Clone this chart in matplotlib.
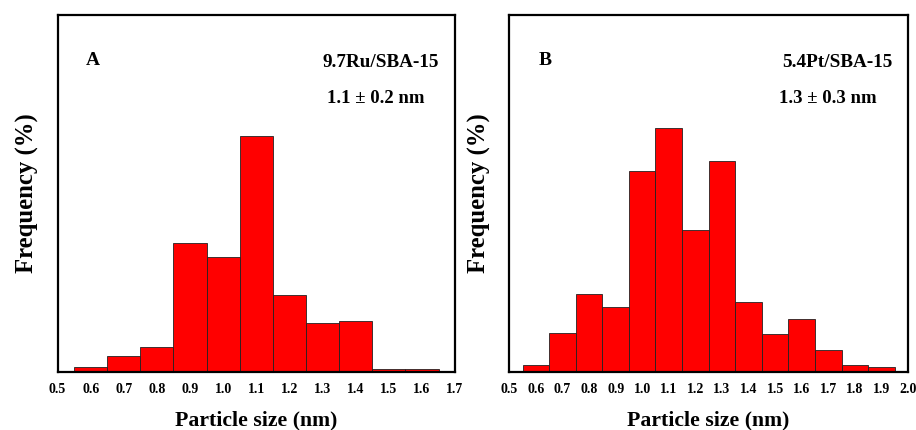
import matplotlib
matplotlib.use("Agg")
from matplotlib import pyplot as plt

# particle size histograms (bin centres in nm, frequency in %)
ru_sizes = [0.6, 0.7, 0.8, 0.9, 1.0, 1.1, 1.2, 1.3, 1.4, 1.5, 1.6]
ru_freq = [0.66, 2.25, 3.52, 18.2, 16.2, 33.3, 10.85, 6.86, 7.19, 0.47, 0.47]

pt_sizes = [0.6, 0.7, 0.8, 0.9, 1.0, 1.1, 1.2, 1.3, 1.4, 1.5, 1.6, 1.7, 1.8, 1.9]
pt_freq = [0.59, 3.3, 6.6, 5.5, 17.0, 20.6, 12.0, 17.8, 5.9, 3.2, 4.5, 1.9, 0.59, 0.39]

ru_ticks = [0.5, 0.6, 0.7, 0.8, 0.9, 1.0, 1.1, 1.2, 1.3, 1.4, 1.5, 1.6, 1.7]
pt_ticks = [0.5, 0.6, 0.7, 0.8, 0.9, 1.0, 1.1, 1.2, 1.3, 1.4, 1.5, 1.6, 1.7, 1.8, 1.9, 2.0]

plt.rcParams['font.family'] = ['Liberation Serif', 'DejaVu Serif']
plt.rcParams['font.weight'] = 'bold'


def draw_panel(ax, sizes, freq, ticks, ymax, letter, sample, mean_text):
    """
    Draw one particle size histogram panel
    """
    ax.bar(sizes, freq, width=0.1, color="#ff0000", edgecolor="#222222", linewidth=0.6)
    ax.set_xlim(ticks[0], ticks[-1])
    ax.set_ylim(0, ymax)
    ax.set_xticks(ticks)
    ax.set_xticklabels([f"{t:.1f}" for t in ticks], fontsize=10, fontweight="bold")
    ax.set_yticks([])
    ax.tick_params(axis='x', length=0, pad=8)
    for spine in ax.spines.values():
        spine.set_linewidth(1.6)
    ax.set_xlabel("Particle size (nm)", fontsize=15.7, fontweight="bold", labelpad=10)
    ax.set_ylabel("Frequency (%)", fontsize=17.8, fontweight="bold", labelpad=13)
    ax.text(0.09, 0.873, letter, transform=ax.transAxes, fontsize=14, fontweight="bold",
            ha="center", va="center")
    ax.text(0.96, 0.865, sample, transform=ax.transAxes, fontsize=13.8, fontweight="bold",
            ha="right", va="center")
    ax.text(0.80, 0.765, mean_text, transform=ax.transAxes, fontsize=13.5, fontweight="bold",
            ha="center", va="center")


fig = plt.figure(figsize=(9.16, 4.30), dpi=100)
ax_a = fig.add_axes([0.0628, 0.1349, 0.434, 0.831])
ax_b = fig.add_axes([0.556, 0.1349, 0.4353, 0.831])

draw_panel(ax_a, ru_sizes, ru_freq, ru_ticks, 50.35, "A", "9.7Ru/SBA-15", "1.1 \u00b1 0.2 nm")
draw_panel(ax_b, pt_sizes, pt_freq, pt_ticks, 30.2, "B", "5.4Pt/SBA-15", "1.3 \u00b1 0.3 nm")

fig.savefig("out.png", dpi=100)
